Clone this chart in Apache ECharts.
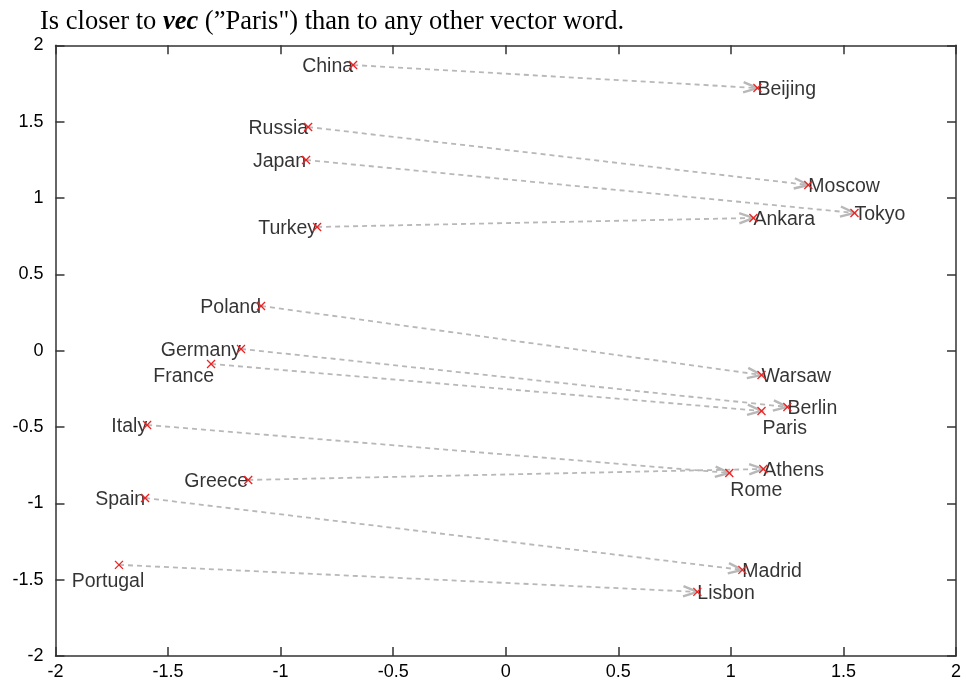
<!DOCTYPE html>
<html>
<head>
<meta charset="utf-8">
<script src="https://cdn.jsdelivr.net/npm/echarts@6/dist/echarts.min.js"></script>
<style>
  html, body { margin: 0; padding: 0; background: #fff; }
  #chart { width: 966px; height: 682px; }
</style>
</head>
<body>
<div id="chart"></div>
<script>
  // word vectors (2-D projection), country -> capital
  const countries = ['China', 'Russia', 'Japan', 'Turkey', 'Poland', 'Germany', 'France', 'Italy', 'Greece', 'Spain', 'Portugal'];
  const countryX = [-0.678, -0.878, -0.887, -0.838, -1.087, -1.176, -1.309, -1.593, -1.144, -1.602, -1.718];
  const countryY = [1.871, 1.465, 1.249, 0.810, 0.293, 0.011, -0.087, -0.487, -0.847, -0.965, -1.403];

  const capitals = ['Beijing', 'Moscow', 'Tokyo', 'Ankara', 'Warsaw', 'Berlin', 'Paris', 'Rome', 'Athens', 'Madrid', 'Lisbon'];
  const capitalX = [1.118, 1.344, 1.549, 1.100, 1.136, 1.251, 1.136, 0.993, 1.144, 1.051, 0.851];
  const capitalY = [1.720, 1.085, 0.902, 0.869, -0.159, -0.369, -0.395, -0.801, -0.775, -1.436, -1.580];

  // labels that don't sit next to their marker
  const labelTweaks = {
    France: { position: 'left', distance: 0, offset: [3, 13] },
    Portugal: { position: 'bottom', distance: 7, offset: [-11, 0] },
    Paris: { position: 'bottom', distance: 8, align: 'left', offset: [1, 0] },
    Rome: { position: 'bottom', distance: 8, align: 'left', offset: [1, 0] }
  };

  const arrows = countries.map((c, i) => [countryX[i], countryY[i], capitalX[i], capitalY[i]]);

  function labelItems(names, xs, ys) {
    return names.map((n, i) => {
      const item = { name: n, value: [xs[i], ys[i]] };
      if (labelTweaks[n]) item.label = Object.assign({ show: true }, labelTweaks[n]);
      return item;
    });
  }

  const allPts = countries.map((c, i) => [countryX[i], countryY[i]])
    .concat(capitals.map((c, i) => [capitalX[i], capitalY[i]]));

  const labelFont = {
    fontFamily: 'Liberation Sans, Arial, sans-serif',
    fontSize: 19.5,
    color: '#000',
    offset: [0, 2]
  };

  const axisBase = {
    type: 'value',
    min: -2,
    max: 2,
    interval: 0.5,
    splitLine: { show: false },
    axisLine: { show: true, onZero: false, lineStyle: { color: '#333', width: 1.5 } },
    axisTick: { show: true, inside: true, length: 9, lineStyle: { color: '#333', width: 1.5 } }
  };
  const tickLabel = {
    fontFamily: 'Liberation Sans, Arial, sans-serif',
    fontSize: 18,
    color: '#000',
    formatter: v => String(v)
  };

  let chart = echarts.init(document.getElementById('chart'));
  chart.setOption({
    animation: false,
    backgroundColor: '#fff',
    title: {
      left: 35,
      top: 4,
      text: '{n|Is closer to }{b|vec}{n| (\u201DParis") than to any other vector word.}',
      textStyle: {
        rich: {
          n: { fontFamily: 'Liberation Serif, Times New Roman, serif', fontSize: 26.5, fontWeight: 'normal', color: '#000' },
          b: { fontFamily: 'Liberation Serif, Times New Roman, serif', fontSize: 26.5, color: '#000', fontWeight: 'bold', fontStyle: 'italic' }
        }
      }
    },
    grid: { left: 55.5, right: 10, top: 45.3, bottom: 26, outerBoundsMode: 'none' },
    xAxis: [
      Object.assign({}, axisBase, { position: 'bottom', axisLabel: Object.assign({ margin: 7 }, tickLabel) }),
      Object.assign({}, axisBase, { position: 'top', axisLabel: { show: false } })
    ],
    yAxis: [
      Object.assign({}, axisBase, { position: 'left', axisLabel: Object.assign({ margin: 12 }, tickLabel) }),
      Object.assign({}, axisBase, { position: 'right', axisLabel: { show: false } })
    ],
    series: [
      {
        // dashed arrows country -> capital
        type: 'custom',
        encode: { x: [0, 2], y: [1, 3] },
        data: arrows,
        silent: true,
        z: 1,
        renderItem(params, api) {
          const a = api.coord([api.value(0), api.value(1)]);
          const b = api.coord([api.value(2), api.value(3)]);
          const ang = Math.atan2(b[1] - a[1], b[0] - a[0]);
          const len = 15, spread = 0.35;
          const p1 = [b[0] - len * Math.cos(ang - spread), b[1] - len * Math.sin(ang - spread)];
          const p2 = [b[0] - len * Math.cos(ang + spread), b[1] - len * Math.sin(ang + spread)];
          const grey = '#b8b8b8';
          return {
            type: 'group',
            children: [
              {
                type: 'line',
                shape: { x1: a[0], y1: a[1], x2: b[0], y2: b[1] },
                style: { stroke: grey, lineWidth: 1.8, lineDash: [5, 4] }
              },
              {
                type: 'polyline',
                shape: { points: [p1, b, p2] },
                style: { stroke: grey, lineWidth: 2.4, fill: null }
              }
            ]
          };
        }
      },
      {
        // red x markers
        type: 'custom',
        encode: { x: 0, y: 1 },
        data: allPts,
        silent: true,
        z: 3,
        renderItem(params, api) {
          const p = api.coord([api.value(0), api.value(1)]);
          const s = 4;
          const red = '#ee2222';
          return {
            type: 'group',
            children: [
              { type: 'line', shape: { x1: p[0] - s, y1: p[1] - s, x2: p[0] + s, y2: p[1] + s }, style: { stroke: red, lineWidth: 1.3 } },
              { type: 'line', shape: { x1: p[0] - s, y1: p[1] + s, x2: p[0] + s, y2: p[1] - s }, style: { stroke: red, lineWidth: 1.3 } }
            ]
          };
        }
      },
      {
        // country names, left of marker
        type: 'scatter',
        symbolSize: 0,
        silent: true,
        z: 2,
        label: Object.assign({ show: true, position: 'left', distance: 0, formatter: p => p.name }, labelFont),
        data: labelItems(countries, countryX, countryY)
      },
      {
        // capital names, right of marker
        type: 'scatter',
        symbolSize: 0,
        silent: true,
        z: 2,
        label: Object.assign({ show: true, position: 'right', distance: 0, formatter: p => p.name }, labelFont),
        data: labelItems(capitals, capitalX, capitalY)
      }
    ]
  });
</script>
</body>
</html>
